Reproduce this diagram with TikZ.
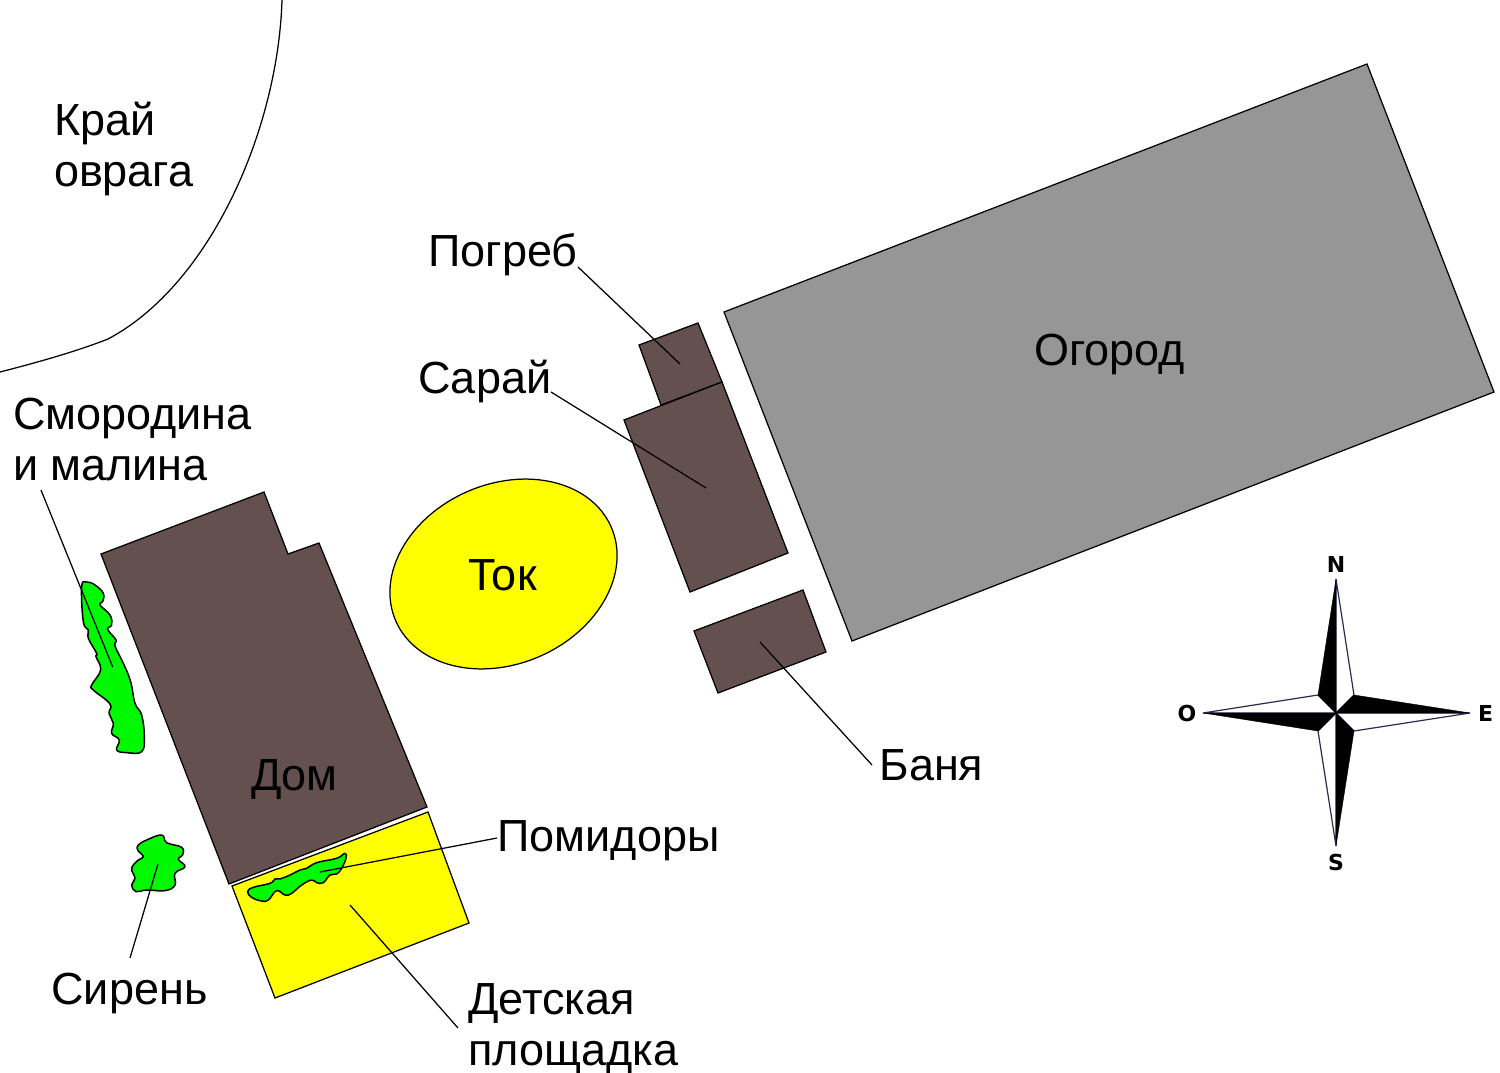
\documentclass[tikz,border=0pt]{standalone}
\usepackage{fontspec}
\setmainfont{Liberation Sans}
\newfontfamily\compassfont{DejaVu Sans}
\usetikzlibrary{shapes.geometric}
\definecolor{shed}{HTML}{655050}
\definecolor{garden}{HTML}{969696}
\definecolor{bush}{HTML}{00F800}
\definecolor{sandy}{HTML}{FFFF00}
\definecolor{navyline}{HTML}{2A2A55}
\tikzset{
  plan/.style={draw=black,line width=1.25pt,line join=miter},
  building/.style={plan,fill=shed},
  sandplot/.style={plan,fill=sandy},
  bushshape/.style={draw=black,line width=1.5pt,fill=bush,line join=round},
  leader/.style={draw=black,line width=1.25pt},
  lbl/.style={font=\fontsize{45}{51}\selectfont,anchor=base west,inner sep=0pt,outer sep=0pt,align=left},
  compasslbl/.style={font=\compassfont\bfseries\fontsize{22}{22}\selectfont,inner sep=0pt,anchor=center},
  dark/.style={fill=black,draw=black,line width=.4pt},
  pale/.style={fill=white,draw=navyline,line width=1.2pt,line join=miter},
}
\begin{document}
\begin{tikzpicture}[x=1pt,y=-1pt]
\useasboundingbox[fill=white] (0,0) rectangle (1500,1073);
% ravine edge
\draw[plan] (282,0) .. controls (278,130) and (210,285) .. (108,339) .. controls (75,352) and (35,363) .. (0,372);
% garden
\draw[plan,fill=garden] (1367,64) -- (1494,392) -- (852,641) -- (724,312) -- cycle;
% buildings
\draw[building] (639,345) -- (698,323) -- (722,382) -- (661,405) -- cycle;
\draw[building] (624,420) -- (722,382) -- (788,553) -- (690,592) -- cycle;
\draw[building] (694,631) -- (803,590) -- (826,652) -- (718,693) -- cycle;
\draw[building] (101,554) -- (264,492) -- (288,554) -- (319,543) -- (427,807) -- (229,884) -- cycle;
% playground and threshing floor
\draw[sandplot] (232,886) -- (428,812) -- (469,923) -- (275,998) -- cycle;
\node[sandplot,ellipse,rotate=23.5,minimum width=235pt,minimum height=180pt,inner sep=0pt] (tok) at (503.5,574) {};
% bushes
\begin{scope}[shift={(60,560)},x=.3333pt,y=-.3333pt]
\draw[bushshape] plot[smooth cycle,tension=.7] coordinates {(65,80)(80,66)(105,75)(130,100)(128,125)(120,135)(150,165)(155,195)(143,208)(168,240)(165,258)(190,310)(212,365)(225,430)(245,465)(253,530)(245,575)(200,578)(170,570)(178,540)(155,520)(160,490)(147,460)(150,432)(100,390)(95,375)(122,330)(108,290)(110,280)(85,235)(85,210)(70,185)};
\end{scope}
\begin{scope}[shift={(110,800)},x=.3333pt,y=-.3333pt]
\draw[bushshape] plot[smooth cycle,tension=.7] coordinates {(85,135)(110,120)(155,105)(170,128)(215,142)(218,165)(205,178)(225,200)(195,220)(195,255)(165,272)(110,270)(78,275)(65,255)(75,235)(65,205)(85,180)(100,170)(83,150)};
\draw[bushshape] plot[smooth cycle,tension=.7] coordinates {(413,275)(430,262)(480,250)(495,237)(510,237)(540,225)(570,210)(590,205)(620,188)(680,175)(705,160)(708,175)(695,205)(680,222)(660,225)(640,248)(620,248)(605,240)(575,255)(545,280)(525,285)(500,272)(475,300)(455,303)(425,292)};
\end{scope}
% labels
\node[lbl] (kray) at (54,186) {Край\\оврага};
\node[lbl] (pogreb) at (428.5,266) {Погреб};
\node[lbl] (saray) at (418,393) {Сарай};
\node[lbl] (smorodina) at (13,480) {Смородина\\и малина};
\node[lbl] (toklbl) at (468,590) {Ток};
\node[lbl] (ogorod) at (1034,365) {Огород};
\node[lbl] (dom) at (251,790) {Дом};
\node[lbl] (banya) at (879.5,780) {Баня};
\node[lbl] (pomidory) at (497.5,851) {Помидоры};
\node[lbl] (siren) at (51.5,1004) {Сирень};
\node[lbl] (detskaya) at (468,1065) {Детская\\площадка};
% leaders
\coordinate (a1) at (41,490);   \coordinate (a2) at (112.7,667);
\coordinate (b1) at (130,958);  \coordinate (b2) at (158,864);
\coordinate (c1) at (578,267);  \coordinate (c2) at (680,364);
\coordinate (d1) at (551,392);  \coordinate (d2) at (706,488);
\coordinate (e1) at (872,765);  \coordinate (e2) at (760,642);
\coordinate (f1) at (497,838);  \coordinate (f2) at (320,872);
\coordinate (g1) at (458,1028); \coordinate (g2) at (350,905);
\draw[leader] (a1) -- (a2);
\draw[leader] (b1) -- (b2);
\draw[leader] (c1) -- (c2);
\draw[leader] (d1) -- (d2);
\draw[leader] (e1) -- (e2);
\draw[leader] (f1) -- (f2);
\draw[leader] (g1) -- (g2);
% compass
\coordinate (cc) at (1336,713);
\coordinate (cn) at (1336,579);
\coordinate (ce) at (1470,713);
\coordinate (cs) at (1336,846);
\coordinate (cw) at (1203,713);
\coordinate (ne) at (1354,695);
\coordinate (se) at (1354,731);
\coordinate (sw) at (1318,731);
\coordinate (nw) at (1318,695);
\draw[pale] (cn) -- (ne) -- (cc) -- cycle;
\draw[pale] (ce) -- (se) -- (cc) -- cycle;
\draw[pale] (cs) -- (sw) -- (cc) -- cycle;
\draw[pale] (cw) -- (nw) -- (cc) -- cycle;
\fill[dark] (cn) -- (nw) -- (cc) -- cycle;
\fill[dark] (ce) -- (ne) -- (cc) -- cycle;
\fill[dark] (cs) -- (se) -- (cc) -- cycle;
\fill[dark] (cw) -- (sw) -- (cc) -- cycle;
\node[compasslbl] (ln) at (1336,564) {N};
\node[compasslbl] (le) at (1485.5,713) {E};
\node[compasslbl] (ls) at (1336,862) {S};
\node[compasslbl] (lo) at (1187,713) {O};
\end{tikzpicture}
\end{document}
